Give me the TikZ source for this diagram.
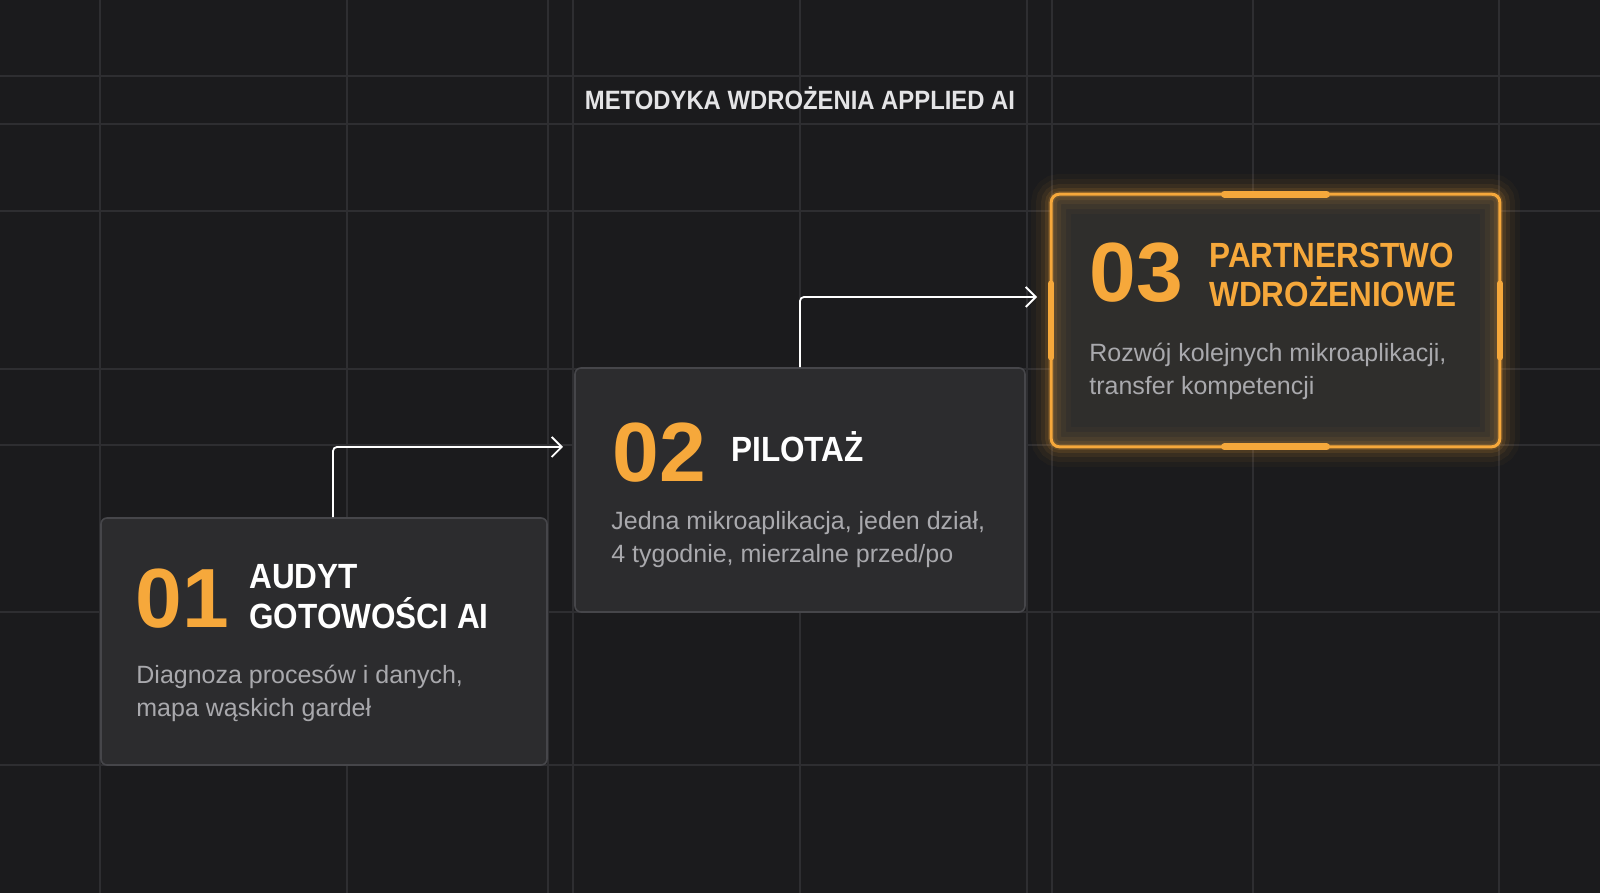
\documentclass[tikz,border=0pt]{standalone}
\usepackage{fontspec}
\setmainfont{Liberation Sans}
\newfontfamily\headfont[FakeStretch=0.9]{Liberation Sans}
\usetikzlibrary{arrows.meta,positioning,calc}

\definecolor{bgc}{HTML}{1B1B1D}
\definecolor{gridc}{HTML}{2E2E31}
\definecolor{cardc}{HTML}{2C2C2E}
\definecolor{edgec}{HTML}{46464A}
\definecolor{hotc}{HTML}{2F2E2C}
\definecolor{orangec}{HTML}{F6A83B}
\definecolor{descc}{HTML}{A9A9AD}
\definecolor{titlec}{HTML}{E4E4E6}

\tikzset{
  card/.style={rounded corners=6pt, fill=cardc, draw=edgec, line width=1.6pt, inner sep=0pt},
  num/.style={font=\bfseries\fontsize{84}{84}\selectfont, text=orangec, anchor=base west, inner sep=0pt},
  head/.style={font=\headfont\bfseries\fontsize{35}{40}\selectfont, text=white, anchor=base west, align=left, inner sep=0pt},
  desc/.style={font=\fontsize{25}{33}\selectfont, text=descc, anchor=base west, align=left, inner sep=0pt},
  flow/.style={draw=white, line width=1.8pt, rounded corners=4pt, -{Straight Barb[length=10pt,width=20pt]}}
}

\begin{document}
\begin{tikzpicture}[x=1pt, y=1pt]
\useasboundingbox (0,0) rectangle (1600,893);
\fill[bgc] (0,0) rectangle (1600,893);

% grid
\foreach \gx in {100,347,548,573,800,1027,1052,1253,1499}
    \draw[gridc, line width=1.4pt] (\gx,0) -- (\gx,893);
\foreach \gy in {128,281,448,524,682,769,817}
    \draw[gridc, line width=1.4pt] (0,\gy) -- (1600,\gy);

\node[font=\headfont\bfseries\fontsize{26.5}{30}\selectfont, text=titlec, anchor=base, inner sep=0pt] (title) at (800,783) {METODYKA WDROŻENIA APPLIED AI};

% cards
\node[card, minimum width=446pt, minimum height=247pt] (one) at (324,251.5) {};
\node[card, minimum width=450pt, minimum height=244pt] (two) at (800,403) {};
\node[card, draw=none, fill=hotc, rounded corners=8pt, minimum width=447pt, minimum height=251pt] (three) at (1275.5,572.5) {};

% glow round the last card
\foreach \w/\op in {40pt/0.03, 30pt/0.05, 20pt/0.07, 12pt/0.10, 6pt/0.16}
    \draw[orangec, line width=\w, opacity=\op, rounded corners=8pt] (three.south west) rectangle (three.north east);
\draw[orangec, line width=3pt, rounded corners=8pt] (three.south west) rectangle (three.north east);
\draw[orangec, line width=7pt, line cap=round] ([xshift=-51pt]three.north) -- ([xshift=51pt]three.north);
\draw[orangec, line width=7pt, line cap=round] ([xshift=-51pt]three.south) -- ([xshift=51pt]three.south);
\draw[orangec, line width=6pt, line cap=round] ([yshift=-37pt]three.west) -- ([yshift=37pt]three.west);
\draw[orangec, line width=6pt, line cap=round] ([yshift=-37pt]three.east) -- ([yshift=37pt]three.east);

% texts (two-line nodes sit on their last baseline)
\node[num] (n1) at ([shift={(35,-110)}]one.north west) {01};
\node[head] (h1) at ([shift={(149,-111)}]one.north west) {AUDYT\\GOTOWOŚCI AI};
\node[desc] (d1) at ([shift={(36,-199)}]one.north west) {Diagnoza procesów i danych,\\mapa wąskich gardeł};

\node[num] (n2) at ([shift={(38,-114)}]two.north west) {02};
\node[head] (h2) at ([shift={(157,-94)}]two.north west) {PILOTAŻ};
\node[desc] (d2) at ([shift={(37,-195)}]two.north west) {Jedna mikroaplikacja, jeden dział,\\4 tygodnie, mierzalne przed/po};

\node[num] (n3) at ([shift={(38,-107)}]three.north west) {03};
\node[head, text=orangec, font=\headfont\bfseries\fontsize{35}{39}\selectfont] (h3) at ([shift={(158,-112)}]three.north west) {PARTNERSTWO\\WDROŻENIOWE};
\node[desc] (d3) at ([shift={(38,-200)}]three.north west) {Rozwój kolejnych mikroaplikacji,\\transfer kompetencji};

% connectors
\coordinate (in2) at (563,446);
\coordinate (in3) at (1037,596);
\draw[flow] ([xshift=9pt]one.north) |- (in2);
\draw[flow] (two.north) |- (in3);
\end{tikzpicture}
\end{document}
